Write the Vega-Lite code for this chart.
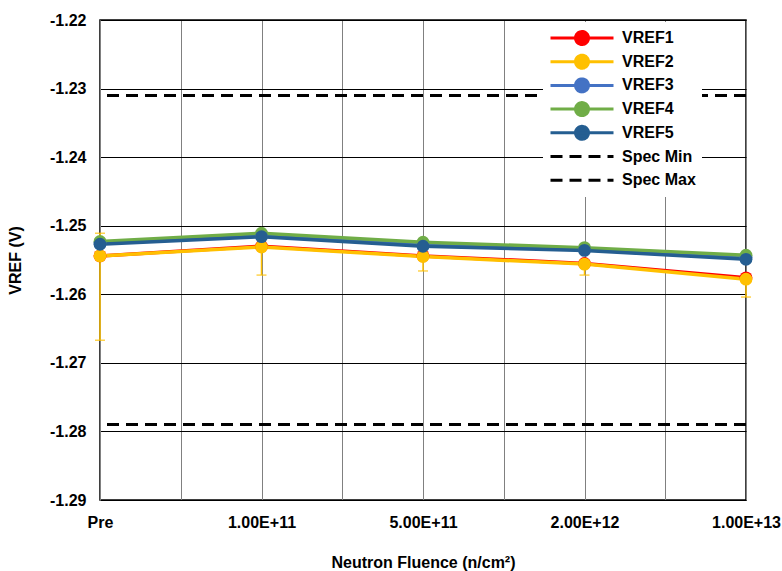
{
  "$schema": "https://vega.github.io/schema/vega-lite/v6.json",
  "width": 646,
  "height": 480,
  "autosize": {"type": "none"},
  "padding": {"left": 100, "top": 20, "right": 36, "bottom": 71},
  "background": "white",
  "config": {
    "font": "Liberation Sans",
    "view": {"stroke": "black", "strokeWidth": 1.5},
    "axis": {
      "labelFont": "Liberation Sans",
      "labelFontWeight": "bold",
      "labelFontSize": 16,
      "labelColor": "black",
      "titleFont": "Liberation Sans",
      "titleFontWeight": "bold",
      "titleFontSize": 16,
      "titleColor": "black",
      "ticks": false
    }
  },
  "datasets": {
    "vref": [
      {"series": "VREF1", "idx": 0, "v": -1.2544},
      {"series": "VREF1", "idx": 1, "v": -1.2530},
      {"series": "VREF1", "idx": 2, "v": -1.2544},
      {"series": "VREF1", "idx": 3, "v": -1.2555},
      {"series": "VREF1", "idx": 4, "v": -1.2576},
      {"series": "VREF2", "idx": 0, "v": -1.2544},
      {"series": "VREF2", "idx": 1, "v": -1.2531},
      {"series": "VREF2", "idx": 2, "v": -1.2545},
      {"series": "VREF2", "idx": 3, "v": -1.2556},
      {"series": "VREF2", "idx": 4, "v": -1.2578},
      {"series": "VREF3", "idx": 0, "v": -1.2525},
      {"series": "VREF3", "idx": 1, "v": -1.2513},
      {"series": "VREF3", "idx": 2, "v": -1.2526},
      {"series": "VREF3", "idx": 3, "v": -1.2534},
      {"series": "VREF3", "idx": 4, "v": -1.2546},
      {"series": "VREF4", "idx": 0, "v": -1.2523},
      {"series": "VREF4", "idx": 1, "v": -1.2511},
      {"series": "VREF4", "idx": 2, "v": -1.2524},
      {"series": "VREF4", "idx": 3, "v": -1.2532},
      {"series": "VREF4", "idx": 4, "v": -1.2543},
      {"series": "VREF5", "idx": 0, "v": -1.2527},
      {"series": "VREF5", "idx": 1, "v": -1.2516},
      {"series": "VREF5", "idx": 2, "v": -1.2530},
      {"series": "VREF5", "idx": 3, "v": -1.2536},
      {"series": "VREF5", "idx": 4, "v": -1.2549}
    ],
    "spec": [
      {"series": "Spec Min", "v": -1.279},
      {"series": "Spec Max", "v": -1.231}
    ],
    "err": [
      {"idx": 0, "lo": -1.2667, "hi": -1.2511},
      {"idx": 1, "lo": -1.2572, "hi": -1.2531},
      {"idx": 2, "lo": -1.2566, "hi": -1.2545},
      {"idx": 3, "lo": -1.2572, "hi": -1.2556},
      {"idx": 4, "lo": -1.2604, "hi": -1.2578}
    ],
    "caps": [
      {"idx": 0, "v": -1.2511},
      {"idx": 0, "v": -1.2667},
      {"idx": 1, "v": -1.2572},
      {"idx": 2, "v": -1.2566},
      {"idx": 3, "v": -1.2572},
      {"idx": 4, "v": -1.2604}
    ]
  },
  "encoding": {
    "x": {
      "field": "idx",
      "type": "quantitative",
      "scale": {"domain": [0, 4], "nice": false, "zero": false},
      "axis": {
        "values": [0, 0.5, 1, 1.5, 2, 2.5, 3, 3.5, 4],
        "labelExpr": "datum.value === 0 ? 'Pre' : datum.value === 1 ? '1.00E+11' : datum.value === 2 ? '5.00E+11' : datum.value === 3 ? '2.00E+12' : datum.value === 4 ? '1.00E+13' : ''",
        "domain": false,
        "grid": true,
        "gridColor": "#808080",
        "gridWidth": 1,
        "gridOpacity": 1,
        "labelPadding": 14,
        "labelFlush": false,
        "title": "Neutron Fluence (n/cm²)",
        "titlePadding": 24
      }
    }
  },
  "layer": [
    {
      "data": {"name": "spec"},
      "mark": {"type": "rule", "strokeWidth": 3, "strokeDash": [12, 7]},
      "encoding": {
        "y": {"field": "v", "type": "quantitative"},
        "x": null,
        "color": {"field": "series", "type": "nominal"}
      }
    },
    {
      "data": {"name": "err"},
      "mark": {"type": "rule", "color": "#FFC000", "strokeWidth": 1.5},
      "encoding": {
        "y": {"field": "lo", "type": "quantitative"},
        "y2": {"field": "hi"}
      }
    },
    {
      "data": {"name": "caps"},
      "mark": {"type": "tick", "color": "#FFC000", "orient": "horizontal", "size": 10, "thickness": 1.5},
      "encoding": {
        "y": {"field": "v", "type": "quantitative"}
      }
    },
    {
      "data": {"name": "vref"},
      "mark": {"type": "line", "strokeWidth": 3.5},
      "encoding": {
        "y": {
          "field": "v",
          "type": "quantitative",
          "scale": {"domain": [-1.29, -1.22], "nice": false, "zero": false},
          "axis": {
            "values": [-1.29, -1.28, -1.27, -1.26, -1.25, -1.24, -1.23, -1.22],
            "labelExpr": "replace(format(datum.value, '.2f'), '\u2212', '-')",
            "grid": true,
            "gridColor": "black",
            "gridWidth": 1,
            "gridOpacity": 1,
            "domain": true,
            "domainColor": "#808080",
            "domainWidth": 1,
            "labelPadding": 14,
            "title": "VREF (V)",
            "titlePadding": 26
          }
        },
        "color": {
          "field": "series",
          "type": "nominal",
          "scale": {
            "domain": ["VREF1", "VREF2", "VREF3", "VREF4", "VREF5", "Spec Min", "Spec Max"],
            "range": ["#FF0000", "#FFC000", "#4472C4", "#70AD47", "#255E91", "black", "black"]
          },
          "legend": {
            "title": null,
            "orient": "none",
            "legendX": 443,
            "legendY": 2,
            "fillColor": "white",
            "padding": 6,
            "labelFont": "Liberation Sans",
            "labelFontSize": 16,
            "labelFontWeight": "bold",
            "labelColor": "black",
            "labelOffset": 7,
            "clipHeight": 20,
            "rowPadding": 3.7,
            "symbolSize": 3969,
            "encode": {
              "symbols": {
                "update": {
                  "shape": {"signal": "indexof(datum.label, 'Spec') === 0 ? 'M-1,0L1,0' : 'M-1,0L1,0M-0.206,0A0.206,0.206,0,1,1,0.206,0A0.206,0.206,0,1,1,-0.206,0Z'"},
                  "stroke": {"signal": "scale('color', datum.value)"},
                  "fill": {"signal": "scale('color', datum.value)"},
                  "strokeDash": {"signal": "indexof(datum.label, 'Spec') === 0 ? [12, 7] : [1, 0]"},
                  "strokeWidth": {"value": 3},
                  "opacity": {"value": 1}
                }
              }
            }
          }
        },
        "order": {"field": "idx"}
      }
    },
    {
      "data": {"name": "vref"},
      "mark": {"type": "point", "filled": true, "size": 165, "opacity": 1},
      "encoding": {
        "y": {"field": "v", "type": "quantitative"},
        "color": {"field": "series", "type": "nominal"}
      }
    }
  ]
}
